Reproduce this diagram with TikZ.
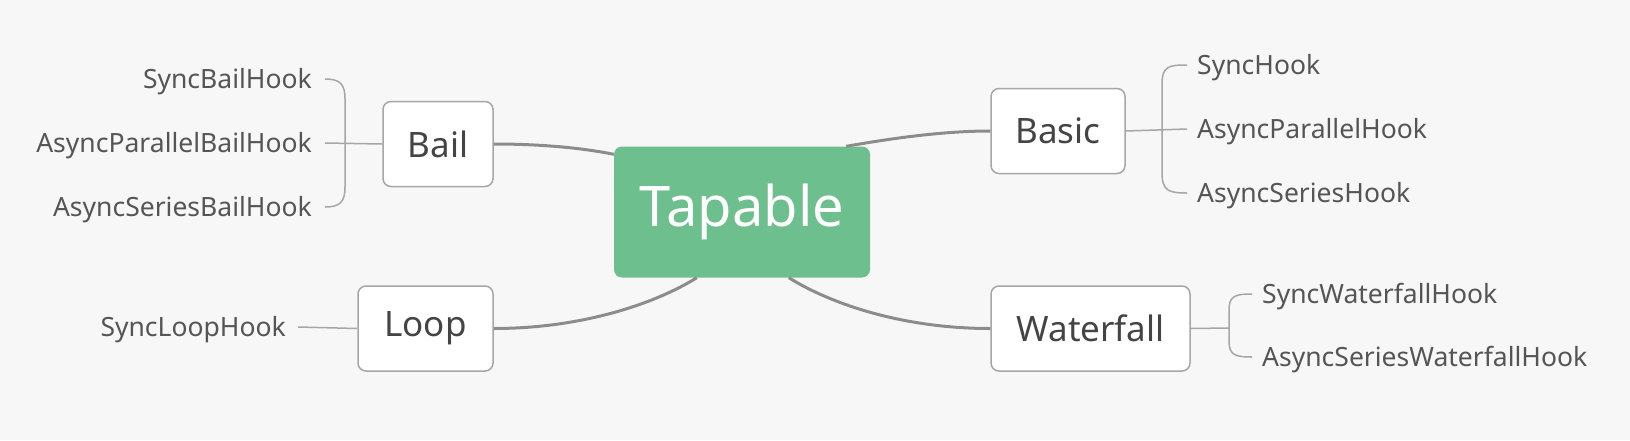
\documentclass[tikz,border=0pt]{standalone}
\usepackage{fontspec}
\setmainfont{Noto Sans}
\usetikzlibrary{calc}
\definecolor{bggray}{HTML}{F7F7F7}
\definecolor{rootgreen}{HTML}{6DBF8E}
\definecolor{boxline}{HTML}{A6A6A6}
\definecolor{linkgray}{HTML}{8C8C8C}
\definecolor{textgray}{HTML}{444444}
\definecolor{leafgray}{HTML}{555555}
\begin{document}
\begin{tikzpicture}[
    x=1pt, y=-1pt,
    root/.style={rectangle, rounded corners=8pt, fill=rootgreen, text=white, minimum width=256pt, minimum height=131pt, font=\fontsize{56}{60}\selectfont},
    group/.style={rectangle, rounded corners=8pt, draw=boxline, line width=1.5pt, fill=white, text=textgray, minimum height=85pt, font=\fontsize{35}{40}\selectfont},
    leaf/.style={inner sep=0pt, text height=19pt, text depth=0pt, text=leafgray, font=\fontsize{26.5}{30}\selectfont},
    link/.style={draw=linkgray, line width=3pt},
    brace/.style={draw=boxline, line width=1.5pt}
]
    \fill[bggray] (0,0) rectangle (1630,440);
    \useasboundingbox (0,0) rectangle (1630,440);

    \node[root] (tapable) at (742,212) {Tapable};
    \node[group, minimum width=110pt] (bail) at (438,144) {Bail};
    \node[group, minimum width=134pt] (basic) at (1058,131) {Basic};
    \node[group, minimum width=135pt] (loop) at (425.5,328.5) {Loop};
    \node[group, minimum width=199pt] (waterfall) at (1090.5,328.5) {Waterfall};

    \node[leaf, anchor=east] (sbail) at (312,79) {SyncBailHook};
    \node[leaf, anchor=east] (apbail) at (312,143) {AsyncParallelBailHook};
    \node[leaf, anchor=east] (asbail) at (312,207) {AsyncSeriesBailHook};
    \node[leaf, anchor=east] (sloop) at (286,327) {SyncLoopHook};
    \node[leaf, anchor=west] (shook) at (1197,65) {SyncHook};
    \node[leaf, anchor=west] (aphook) at (1197,129) {AsyncParallelHook};
    \node[leaf, anchor=west] (ashook) at (1197,193) {AsyncSeriesHook};
    \node[leaf, anchor=west] (swf) at (1262,294) {SyncWaterfallHook};
    \node[leaf, anchor=west] (aswf) at (1262,357) {AsyncSeriesWaterfallHook};
    \coordinate (wfspine) at (1229,328);

    \draw[link] (bail.east) .. controls +(50,0) and +(-30,-6) .. ($(tapable.north west)+(0,8)$);
    \draw[link] ($(tapable.north east)+(-24,0)$) .. controls +(40,-7) and +(-50,0) .. (basic.west);
    \draw[link] ($(tapable.south west)+(83,0)$) .. controls +(-40,25) and +(90,0) .. (loop.east);
    \draw[link] ($(tapable.south west)+(175,0)$) .. controls +(40,25) and +(-90,0) .. (waterfall.west);

    \draw[brace] (bail.west) -- ([xshift=13pt]apbail.east);
    \draw[brace] ([xshift=13pt]sbail.east) .. controls +(15,0) and +(0,-15) .. (345,99) -- (345,187) .. controls +(0,15) and +(15,0) .. ([xshift=13pt]asbail.east);
    \draw[brace] (basic.east) -- ([xshift=-10pt]aphook.west);
    \draw[brace] ([xshift=-10pt]shook.west) .. controls +(-18,0) and +(0,-18) .. (1162,84) -- (1162,173) .. controls +(0,18) and +(-18,0) .. ([xshift=-10pt]ashook.west);
    \draw[brace] (loop.west) -- ([xshift=12pt]sloop.east);
    \draw[brace] (waterfall.east) -- (wfspine);
    \draw[brace] ([xshift=-10pt]swf.west) .. controls +(-17,0) and +(0,-14) .. (1229,310) -- (1229,341) .. controls +(0,14) and +(-17,0) .. ([xshift=-10pt]aswf.west);
\end{tikzpicture}
\end{document}
